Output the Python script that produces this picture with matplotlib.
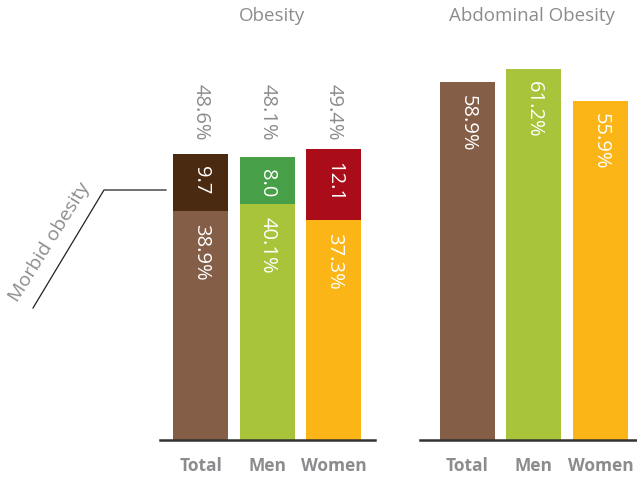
import matplotlib
matplotlib.use("Agg")
import matplotlib.pyplot as plt
from matplotlib.lines import Line2D
import matplotlib.transforms as mtransforms

plt.rcParams['font.family'] = ['Open Sans', 'DejaVu Sans']

categories = ["Total", "Men", "Women"]
obesity_base = [38.9, 40.1, 37.3]
morbid = [9.7, 8.0, 12.1]
obesity_total = [48.6, 48.1, 49.4]
abdominal = [58.9, 61.2, 55.9]

base_colors = ["#855E47", "#A8C43A", "#FBB516"]
top_colors = ["#4B2A12", "#47A047", "#AA0D19"]
gray = "#8C8C8F"

W, H = 637, 480
fig = plt.figure(figsize=(W / 100, H / 100), dpi=100)

def px_axes(left, right, bottom_px, height_px):
    return fig.add_axes([left / W, bottom_px / H, (right - left) / W, height_px / H])

YMAX = 70
axL = px_axes(160, 375, 40, YMAX * 5.885)
axR = px_axes(420, 637, 40, YMAX * 6.07)

x = list(range(len(categories)))
bw = 0.83

def style(ax, xlim):
    ax.set_ylim(0, YMAX)
    ax.set_xlim(*xlim)
    for s in ["top", "right", "left"]:
        ax.spines[s].set_visible(False)
    ax.spines["bottom"].set_color("#333333")
    ax.spines["bottom"].set_linewidth(1.8)
    ax.spines["bottom"].set_zorder(5)
    ax.set_yticks([])
    ax.set_xticks(x)
    ax.set_xticklabels(categories, fontsize=12.5, fontweight="bold", color=gray)
    ax.tick_params(axis="x", length=0, pad=12)
    ax.patch.set_alpha(0)

style(axL, (-0.61, 2.62))
style(axR, (-0.71, 2.55))

axL.bar(x, obesity_base, width=bw, color=base_colors)
axL.bar(x, morbid, width=bw, bottom=obesity_base, color=top_colors)

offs = mtransforms.offset_copy
fs = 14.5
for i in x:
    t = offs(axL.transData, fig=fig, x=0, y=-9, units="points")
    axL.text(i, obesity_base[i], f"{obesity_base[i]:.1f}%", rotation=-90, ha="center", va="top",
             color="white", fontsize=fs, transform=t)
    axL.text(i, obesity_base[i] + morbid[i], f"{morbid[i]:.1f}", rotation=-90, ha="center", va="top",
             color="white", fontsize=fs, transform=t)
    tb = mtransforms.blended_transform_factory(axL.transData, fig.transFigure)
    axL.text(i, 1 - 84 / H, f"{obesity_total[i]:.1f}%", rotation=-90, ha="center", va="top",
             color=gray, fontsize=fs, transform=tb)

axR.bar(x, abdominal, width=bw, color=base_colors)
for i in x:
    t = offs(axR.transData, fig=fig, x=0, y=-9, units="points")
    axR.text(i, abdominal[i], f"{abdominal[i]:.1f}%", rotation=-90, ha="center", va="top",
             color="white", fontsize=fs, transform=t)

fig.text(272 / W, 1 - 16 / H, "Obesity", ha="center", va="center", color=gray, fontsize=13.5)
fig.text(532 / W, 1 - 16 / H, "Abdominal Obesity", ha="center", va="center", color=gray, fontsize=13.5)

xs = [33 / W, 104 / W, 166 / W]
ys = [1 - 308 / H, 1 - 190 / H, 1 - 190 / H]
fig.add_artist(Line2D(xs, ys, transform=fig.transFigure, color="#222222", linewidth=0.9))
fig.text(50 / W, 1 - 242 / H, "Morbid obesity", rotation=58, ha="center", va="center",
         color=gray, fontsize=14, rotation_mode="anchor")

fig.savefig("out.png", dpi=100)
